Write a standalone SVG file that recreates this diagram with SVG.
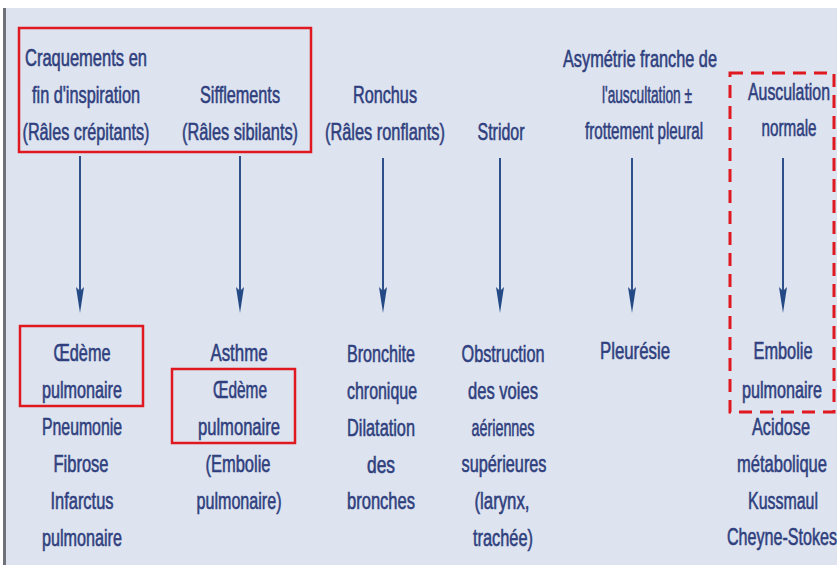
<svg xmlns="http://www.w3.org/2000/svg" width="837" height="565" viewBox="0 0 837 565">
  <defs>
    <style>
      .t { font-family: "Liberation Sans Narrow", "Liberation Sans", Arial, sans-serif; font-size: 24px; fill: #2f3f7e; stroke: #2f3f7e; stroke-width: 0.6; text-anchor: middle; }
      .box { fill: none; stroke: #e01820; stroke-width: 2.5; }
      .dash { fill: none; stroke: #e01820; stroke-width: 3; stroke-dasharray: 13 8; }
      .arrow { stroke: #2d4f8a; stroke-width: 2; fill: none; marker-end: url(#head); }
    </style>
    <marker id="head" viewBox="0 0 26 8" refX="13" refY="4" markerWidth="26" markerHeight="8" markerUnits="userSpaceOnUse" orient="auto">
      <path d="M0,0 L26,4 L0,8 L4,4 z" fill="#244a86"/>
    </marker>
  </defs>

  <!-- page background -->
  <rect x="0" y="0" width="837" height="565" fill="#ffffff"/>
  <rect x="3" y="8" width="834" height="557" fill="#dde3ef"/>
  <rect x="3" y="8" width="3" height="557" fill="#6f7278"/>

  <!-- highlight frames -->
  <rect class="box" x="19" y="28" width="292" height="124"/>
  <rect class="box" x="20" y="326" width="123" height="80"/>
  <rect class="box" x="172" y="369" width="123" height="74"/>
  <rect class="dash" x="730" y="73" width="104" height="339"/>

  <!-- connectors -->
  <g id="connectors">
    <line class="arrow" x1="80" y1="156" x2="80" y2="300"/>
    <line class="arrow" x1="240" y1="156" x2="240" y2="300"/>
    <line class="arrow" x1="383" y1="158" x2="383" y2="300"/>
    <line class="arrow" x1="500" y1="158" x2="500" y2="300"/>
    <line class="arrow" x1="632" y1="158" x2="632" y2="300"/>
    <line class="arrow" x1="783" y1="158" x2="783" y2="300"/>
  </g>

  <!-- auscultation findings -->
  <g id="crepitants">
    <text class="t" x="86" y="66" textLength="122" lengthAdjust="spacingAndGlyphs">Craquements en</text>
    <text class="t" x="86" y="103" textLength="108" lengthAdjust="spacingAndGlyphs">fin d'inspiration</text>
    <text class="t" x="86" y="140" textLength="127" lengthAdjust="spacingAndGlyphs">(Râles crépitants)</text>
  </g>
  <g id="sibilants">
    <text class="t" x="240" y="103" textLength="80" lengthAdjust="spacingAndGlyphs">Sifflements</text>
    <text class="t" x="240" y="140" textLength="116" lengthAdjust="spacingAndGlyphs">(Râles sibilants)</text>
  </g>
  <g id="ronchus">
    <text class="t" x="385" y="103" textLength="64" lengthAdjust="spacingAndGlyphs">Ronchus</text>
    <text class="t" x="385" y="140" textLength="120" lengthAdjust="spacingAndGlyphs">(Râles ronflants)</text>
  </g>
  <g id="stridor">
    <text class="t" x="501" y="140" textLength="47" lengthAdjust="spacingAndGlyphs">Stridor</text>
  </g>
  <g id="asymetrie">
    <text class="t" x="640" y="67" textLength="154" lengthAdjust="spacingAndGlyphs">Asymétrie franche de</text>
    <text class="t" x="647" y="103" textLength="90" lengthAdjust="spacingAndGlyphs">l'auscultation ±</text>
    <text class="t" x="644" y="139" textLength="118" lengthAdjust="spacingAndGlyphs">frottement pleural</text>
  </g>
  <g id="normale">
    <text class="t" x="789" y="100" textLength="82" lengthAdjust="spacingAndGlyphs">Ausculation</text>
    <text class="t" x="789" y="136" textLength="55" lengthAdjust="spacingAndGlyphs">normale</text>
  </g>

  <!-- diagnoses -->
  <g id="dx-crepitants">
    <text class="t" x="82" y="361" textLength="57" lengthAdjust="spacingAndGlyphs">Œdème</text>
    <text class="t" x="82" y="398" textLength="80" lengthAdjust="spacingAndGlyphs">pulmonaire</text>
    <text class="t" x="82" y="435" textLength="80" lengthAdjust="spacingAndGlyphs">Pneumonie</text>
    <text class="t" x="81" y="472" textLength="55" lengthAdjust="spacingAndGlyphs">Fibrose</text>
    <text class="t" x="82" y="509" textLength="63" lengthAdjust="spacingAndGlyphs">Infarctus</text>
    <text class="t" x="82" y="546" textLength="80" lengthAdjust="spacingAndGlyphs">pulmonaire</text>
  </g>
  <g id="dx-sibilants">
    <text class="t" x="239" y="361" textLength="57" lengthAdjust="spacingAndGlyphs">Asthme</text>
    <text class="t" x="240" y="398" textLength="54" lengthAdjust="spacingAndGlyphs">Œdème</text>
    <text class="t" x="239" y="435" textLength="82" lengthAdjust="spacingAndGlyphs">pulmonaire</text>
    <text class="t" x="238" y="472" textLength="65" lengthAdjust="spacingAndGlyphs">(Embolie</text>
    <text class="t" x="239" y="509" textLength="85" lengthAdjust="spacingAndGlyphs">pulmonaire)</text>
  </g>
  <g id="dx-ronchus">
    <text class="t" x="381" y="362" textLength="68" lengthAdjust="spacingAndGlyphs">Bronchite</text>
    <text class="t" x="382" y="399" textLength="70" lengthAdjust="spacingAndGlyphs">chronique</text>
    <text class="t" x="381" y="436" textLength="68" lengthAdjust="spacingAndGlyphs">Dilatation</text>
    <text class="t" x="381" y="473" textLength="28" lengthAdjust="spacingAndGlyphs">des</text>
    <text class="t" x="381" y="509" textLength="68" lengthAdjust="spacingAndGlyphs">bronches</text>
  </g>
  <g id="dx-stridor">
    <text class="t" x="503" y="362" textLength="83" lengthAdjust="spacingAndGlyphs">Obstruction</text>
    <text class="t" x="503" y="399" textLength="70" lengthAdjust="spacingAndGlyphs">des voies</text>
    <text class="t" x="503" y="436" textLength="63" lengthAdjust="spacingAndGlyphs">aériennes</text>
    <text class="t" x="504" y="472" textLength="85" lengthAdjust="spacingAndGlyphs">supérieures</text>
    <text class="t" x="502" y="509" textLength="55" lengthAdjust="spacingAndGlyphs">(larynx,</text>
    <text class="t" x="503" y="546" textLength="60" lengthAdjust="spacingAndGlyphs">trachée)</text>
  </g>
  <g id="dx-asymetrie">
    <text class="t" x="635" y="359" textLength="70" lengthAdjust="spacingAndGlyphs">Pleurésie</text>
  </g>
  <g id="dx-normale">
    <text class="t" x="783" y="359" textLength="59" lengthAdjust="spacingAndGlyphs">Embolie</text>
    <text class="t" x="782" y="398" textLength="80" lengthAdjust="spacingAndGlyphs">pulmonaire</text>
    <text class="t" x="781" y="435" textLength="58" lengthAdjust="spacingAndGlyphs">Acidose</text>
    <text class="t" x="782" y="472" textLength="90" lengthAdjust="spacingAndGlyphs">métabolique</text>
    <text class="t" x="783" y="509" textLength="70" lengthAdjust="spacingAndGlyphs">Kussmaul</text>
    <text class="t" x="782" y="545" textLength="110" lengthAdjust="spacingAndGlyphs">Cheyne-Stokes</text>
  </g>
</svg>
